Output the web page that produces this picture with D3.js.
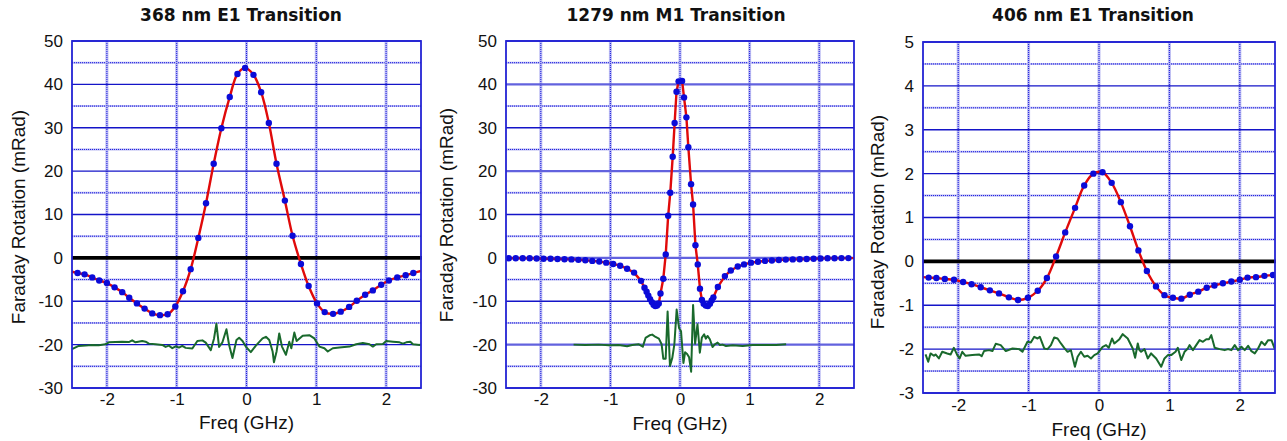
<!DOCTYPE html>
<html><head><meta charset="utf-8">
<script src="https://cdn.jsdelivr.net/npm/d3@7"></script>
<style>body{margin:0;background:#fff;} svg{display:block;}</style>
</head><body><svg id="c" width="1287" height="441"></svg>
<script>
// ---------- DATA ----------
const titles = ["368 nm E1 Transition", "1279 nm M1 Transition", "406 nm E1 Transition"];
const xLabel = "Freq (GHz)";
const yLabel = "Faraday Rotation (mRad)";
const xTicks = [-2, -1, 0, 1, 2];
const yTicksA = [50, 40, 30, 20, 10, 0, -10, -20, -30];
const yMinorA = [45, 35, 25, 15, 5, -5, -15, -25];
const yTicksB = [5, 4, 3, 2, 1, 0, -1, -2, -3];
const yMinorB = [4.5, 3.5, 2.5, 1.5, 0.5, -0.5, -1.5, -2.5];

// Panel 1 (368 nm) measured points
const p1DotX = [-2.42,-2.32,-2.21,-2.11,-2.00,-1.89,-1.78,-1.68,-1.57,-1.46,-1.35,-1.24,-1.13,-1.02,-0.91,-0.80,-0.69,-0.58,-0.47,-0.36,-0.24,-0.13,-0.02,0.10,0.21,0.32,0.43,0.55,0.66,0.78,0.89,1.01,1.12,1.24,1.35,1.47,1.58,1.70,1.81,1.93,2.04,2.16,2.28,2.39];
const p1DotY = [-3.5,-3.8,-4.5,-5.2,-5.8,-6.8,-7.9,-9.2,-10.5,-11.7,-12.8,-13.2,-13.0,-11.2,-7.7,-2.6,4.6,12.6,21.7,29.9,37.1,42.4,43.8,42.2,38.2,31.1,21.7,13.2,5.1,-1.4,-6.5,-10.5,-12.5,-12.9,-12.4,-11.3,-9.9,-8.5,-7.5,-6.2,-5.2,-4.5,-4.0,-3.5];
const p1FitEnds = [[-2.5, -3.2], [2.5, -3.0]];
const p1Resid = [[-2.5,-21.05],[-2.404,-20.3],[-2.308,-20.23],[-2.213,-20.08],[-2.117,-20.15],[-2.021,-19.92],[-1.973,-19.47],[-1.877,-19.4],[-1.782,-19.32],[-1.686,-19.4],[-1.638,-19.02],[-1.59,-19.47],[-1.494,-19.17],[-1.446,-19.32],[-1.398,-19.77],[-1.303,-19.92],[-1.207,-20.08],[-1.159,-20.53],[-1.111,-20.23],[-1.063,-20.83],[-1.015,-20.38],[-0.967,-20.68],[-0.92,-20.3],[-0.872,-20.75],[-0.776,-20.9],[-0.704,-19.17],[-0.632,-19.02],[-0.584,-19.55],[-0.512,-21.28],[-0.465,-18.57],[-0.431,-15.19],[-0.393,-20.53],[-0.345,-19.47],[-0.287,-16.47],[-0.249,-20.08],[-0.201,-23.08],[-0.144,-18.95],[-0.105,-18.42],[-0.057,-19.17],[-0.01,-20.45],[0.062,-21.73],[0.134,-20.23],[0.23,-18.57],[0.278,-18.2],[0.326,-18.95],[0.374,-21.58],[0.393,-24.06],[0.431,-21.58],[0.469,-17.44],[0.508,-20.45],[0.565,-22.33],[0.613,-19.32],[0.642,-20.83],[0.685,-17.22],[0.718,-19.17],[0.805,-17.97],[0.9,-17.82],[0.972,-18.57],[1.044,-20.45],[1.116,-20.83],[1.164,-21.58],[1.236,-20.83],[1.331,-20.68],[1.475,-20.45],[1.571,-19.92],[1.667,-19.62],[1.762,-19.92],[1.81,-20.45],[1.858,-19.92],[1.954,-19.85],[2.002,-19.17],[2.098,-19.32],[2.193,-19.47],[2.241,-19.77],[2.289,-19.47],[2.347,-19.32],[2.385,-19.92],[2.481,-20.08],[2.5,-19.92]];

// Panel 2 (1279 nm) measured points
const p2DotX = [-2.46,-2.36,-2.26,-2.16,-2.06,-1.96,-1.86,-1.76,-1.66,-1.56,-1.46,-1.36,-1.26,-1.16,-1.06,-0.96,-0.86,-0.76,-0.66,-0.56,-0.51,-0.48,-0.455,-0.43,-0.405,-0.38,-0.355,-0.33,-0.305,-0.28,-0.24,-0.205,-0.17,-0.14,-0.105,-0.077,-0.05,-0.02,0.03,0.058,0.092,0.12,0.159,0.188,0.222,0.255,0.287,0.315,0.34,0.37,0.40,0.43,0.455,0.48,0.544,0.645,0.73,0.83,0.92,1.02,1.12,1.22,1.32,1.42,1.52,1.62,1.72,1.82,1.92,2.02,2.12,2.22,2.32,2.42];
const p2DotY = [-0.1,-0.1,-0.1,-0.1,-0.15,-0.2,-0.2,-0.25,-0.3,-0.35,-0.45,-0.55,-0.7,-0.85,-1.1,-1.4,-1.8,-2.5,-3.4,-5.3,-6.9,-7.8,-8.7,-9.5,-10.2,-10.8,-11.1,-11.0,-10.5,-8.2,-4.8,0.8,9.7,15.0,23.3,31.1,38.3,40.7,40.8,37.0,32.4,25.5,17.0,12.3,2.9,-1.5,-7.1,-9.7,-10.6,-11.0,-11.1,-10.6,-9.8,-9.1,-6.7,-4.2,-2.9,-2.0,-1.5,-1.1,-0.9,-0.7,-0.6,-0.5,-0.4,-0.35,-0.3,-0.25,-0.2,-0.15,-0.1,-0.1,-0.05,-0.05];
const p2FitEnds = [[-2.5, -0.1], [2.5, -0.05]];
const p2Resid = [[-1.529,-20.0],[-1.361,-20.08],[-1.168,-20.0],[-1.024,-20.15],[-0.88,-20.08],[-0.76,-20.38],[-0.687,-20.08],[-0.591,-19.92],[-0.534,-20.46],[-0.495,-18.46],[-0.437,-17.85],[-0.399,-17.69],[-0.351,-18.23],[-0.303,-18.62],[-0.264,-19.92],[-0.24,-23.23],[-0.206,-23.23],[-0.178,-12.38],[-0.144,-24.92],[-0.11,-23.0],[-0.081,-19.92],[-0.048,-11.92],[-0.014,-16.15],[0.015,-16.92],[0.049,-24.23],[0.073,-21.77],[0.102,-22.15],[0.131,-22.92],[0.16,-26.23],[0.188,-10.85],[0.217,-19.77],[0.251,-15.31],[0.285,-21.85],[0.314,-18.38],[0.347,-17.62],[0.371,-18.62],[0.395,-18.0],[0.429,-18.77],[0.467,-20.54],[0.501,-19.92],[0.54,-19.54],[0.573,-20.08],[0.612,-20.0],[0.661,-20.31],[0.757,-20.15],[0.901,-20.31],[1.045,-20.08],[1.237,-20.08],[1.381,-20.08],[1.525,-19.92]];

// Panel 3 (406 nm) measured points
const p3DotX = [-2.42,-2.31,-2.19,-2.06,-1.93,-1.81,-1.68,-1.55,-1.42,-1.28,-1.15,-1.01,-0.87,-0.74,-0.61,-0.48,-0.34,-0.21,-0.08,0.05,0.18,0.31,0.44,0.56,0.68,0.81,0.93,1.05,1.17,1.29,1.41,1.53,1.64,1.76,1.88,2.00,2.11,2.23,2.35,2.47];
const p3DotY = [-0.37,-0.38,-0.40,-0.42,-0.47,-0.52,-0.59,-0.66,-0.73,-0.82,-0.88,-0.83,-0.67,-0.38,0.11,0.66,1.22,1.73,2.00,2.03,1.79,1.35,0.80,0.25,-0.22,-0.57,-0.77,-0.83,-0.85,-0.76,-0.69,-0.60,-0.55,-0.50,-0.46,-0.42,-0.37,-0.36,-0.33,-0.31];
const p3FitEnds = [[-2.5, -0.36], [2.5, -0.30]];
const p3Resid = [[-2.464,-2.121],[-2.426,-2.288],[-2.393,-2.098],[-2.345,-2.152],[-2.322,-2.121],[-2.274,-2.212],[-2.227,-2.061],[-2.156,-2.098],[-2.108,-2.121],[-2.061,-1.97],[-2.013,-2.136],[-1.98,-2.212],[-1.942,-2.061],[-1.895,-2.152],[-1.8,-2.136],[-1.704,-2.121],[-1.666,-2.159],[-1.633,-2.045],[-1.562,-2.023],[-1.514,-2.045],[-1.467,-1.879],[-1.396,-1.909],[-1.324,-2.045],[-1.229,-1.985],[-1.134,-2.0],[-1.087,-2.061],[-1.016,-1.833],[-0.968,-1.848],[-0.92,-1.72],[-0.873,-1.758],[-0.84,-1.72],[-0.778,-1.985],[-0.731,-2.0],[-0.683,-1.909],[-0.636,-1.735],[-0.589,-1.758],[-0.541,-1.871],[-0.494,-1.97],[-0.446,-2.061],[-0.399,-2.023],[-0.342,-2.402],[-0.304,-2.174],[-0.257,-2.061],[-0.209,-2.174],[-0.162,-2.152],[-0.114,-2.212],[-0.067,-2.136],[-0.019,-2.098],[0.052,-1.947],[0.1,-1.909],[0.138,-1.97],[0.185,-1.758],[0.218,-1.871],[0.29,-1.773],[0.337,-1.659],[0.408,-1.758],[0.479,-1.985],[0.513,-2.197],[0.551,-1.871],[0.574,-2.023],[0.598,-2.061],[0.646,-2.0],[0.693,-2.212],[0.74,-2.098],[0.812,-2.212],[0.883,-2.402],[0.93,-2.212],[0.978,-2.136],[1.025,-2.136],[1.087,-2.061],[1.12,-1.97],[1.168,-2.25],[1.215,-2.061],[1.262,-1.985],[1.286,-1.909],[1.334,-2.023],[1.381,-1.909],[1.429,-1.795],[1.476,-1.833],[1.524,-1.773],[1.562,-1.773],[1.595,-1.682],[1.643,-1.97],[1.714,-2.0],[1.785,-2.023],[1.833,-2.0],[1.88,-2.023],[1.928,-1.909],[1.975,-2.023],[2.023,-1.947],[2.07,-2.023],[2.118,-1.924],[2.165,-2.045],[2.213,-2.098],[2.26,-1.985],[2.308,-1.833],[2.355,-1.909],[2.403,-1.795],[2.45,-1.795],[2.498,-2.0]];

// ---------- LAYOUT / STYLE ----------
const panels = [
  {title: titles[0], box: {l: 72, r: 421, t: 41, b: 388}, yDomain: [-30, 50], yTicks: yTicksA, yMinor: yMinorA,
   dx: p1DotX, dy: p1DotY, ends: p1FitEnds, resid: p1Resid, smooth: true, zero: true, alt: false,
   yTitleX: 18, yTitleY: 217, titleX: 241, xTickPad: 5, xTitleY: 429},
  {title: titles[1], box: {l: 506, r: 854, t: 41, b: 388}, yDomain: [-30, 50], yTicks: yTicksA, yMinor: yMinorA,
   dx: p2DotX, dy: p2DotY, ends: p2FitEnds, resid: p2Resid, smooth: false, zero: false, alt: true,
   yTitleX: 446, yTitleY: 215, titleX: 676, xTickPad: 5, xTitleY: 430},
  {title: titles[2], box: {l: 923, r: 1275, t: 42, b: 393}, yDomain: [-3, 5], yTicks: yTicksB, yMinor: yMinorB,
   dx: p3DotX, dy: p3DotY, ends: p3FitEnds, resid: p3Resid, smooth: true, zero: true, alt: false,
   yTitleX: 877, yTitleY: 222, titleX: 1093, xTickPad: 6, xTitleY: 436}
];

const BLUE_MAJOR = "#1414c8";
const BLUE_DOT = "#1a1ae0";
const BAND = "#b9b9f2";
const FRAME = "#2424d4";
const TICK_FONT = "'Liberation Sans', Arial, sans-serif";

const svg = d3.select("#c");
svg.append("rect").attr("width", 1287).attr("height", 441).attr("fill", "#fff");

panels.forEach((p, i) => {
  const b = p.box;
  const x = d3.scaleLinear().domain([-2.5, 2.5]).range([b.l, b.r]);
  const y = d3.scaleLinear().domain(p.yDomain).range([b.b, b.t]);
  const g = svg.append("g");

  const clipId = "clip" + i;
  svg.append("clipPath").attr("id", clipId)
    .append("rect").attr("x", b.l).attr("y", b.t).attr("width", b.r - b.l).attr("height", b.b - b.t);

  // minor horizontal grid (dotted)
  const minor = g.append("g");
  minor.selectAll("line.band").data(p.yMinor).join("line")
    .attr("x1", b.l).attr("x2", b.r).attr("y1", d => y(d)).attr("y2", d => y(d))
    .attr("stroke", BAND).attr("stroke-width", 2);
  minor.selectAll("line.dot").data(p.yMinor).join("line").attr("class", "dot")
    .attr("x1", b.l).attr("x2", b.r).attr("y1", d => y(d)).attr("y2", d => y(d))
    .attr("stroke", BLUE_DOT).attr("stroke-width", 1).attr("stroke-dasharray", "1,1");

  // vertical grid (dotted)
  const vg = g.append("g");
  vg.selectAll("line.band").data(xTicks).join("line")
    .attr("x1", d => x(d)).attr("x2", d => x(d)).attr("y1", b.t).attr("y2", b.b)
    .attr("stroke", BAND).attr("stroke-width", 3);
  vg.selectAll("line.dot").data(xTicks).join("line").attr("class", "dot")
    .attr("x1", d => x(d)).attr("x2", d => x(d)).attr("y1", b.t).attr("y2", b.b)
    .attr("stroke", BLUE_DOT).attr("stroke-width", 1).attr("stroke-dasharray", "1,1");

  // major horizontal grid (solid)
  g.append("g").selectAll("line").data(p.yTicks).join("line")
    .attr("x1", b.l).attr("x2", b.r).attr("y1", d => y(d)).attr("y2", d => y(d))
    .attr("stroke", (d, k) => (p.alt && k % 2 === 1) ? "#6262de" : BLUE_MAJOR)
    .attr("stroke-width", (d, k) => (p.alt && k % 2 === 1) ? 2.4 : 1.3);

  // zero line
  if (p.zero) {
    g.append("line").attr("x1", b.l).attr("x2", b.r + 1).attr("y1", y(0)).attr("y2", y(0))
      .attr("stroke", "#000").attr("stroke-width", 3.6);
  }

  const plot = g.append("g").attr("clip-path", `url(#${clipId})`);

  // residual (green)
  plot.append("path").datum(p.resid)
    .attr("d", d3.line().x(d => x(d[0])).y(d => y(d[1])))
    .attr("fill", "none").attr("stroke", "#19692c").attr("stroke-width", 2).attr("stroke-linejoin", "round");

  // fit (red)
  const pts = p.dx.map((v, k) => [v, p.dy[k]]);
  const fit = [p.ends[0], ...pts, p.ends[1]];
  plot.append("path").datum(fit)
    .attr("d", d3.line().x(d => x(d[0])).y(d => y(d[1]))
      .curve(p.smooth ? d3.curveCatmullRom.alpha(0.5) : d3.curveLinear))
    .attr("fill", "none").attr("stroke", "#e00a0a").attr("stroke-width", 2.4).attr("stroke-linejoin", "round");

  // measured points (blue)
  plot.append("g").selectAll("circle").data(pts).join("circle")
    .attr("cx", d => x(d[0])).attr("cy", d => y(d[1])).attr("r", 3.2)
    .attr("fill", "#0b0bd8");

  // frame
  g.append("rect").attr("x", b.l).attr("y", b.t).attr("width", b.r - b.l).attr("height", b.b - b.t)
    .attr("fill", "none").attr("stroke", FRAME).attr("stroke-width", 1.8);

  // axes
  const ya = g.append("g").attr("transform", `translate(${b.l},0)`)
    .call(d3.axisLeft(y).tickValues(p.yTicks).tickSize(0).tickPadding(9).tickFormat(d => String(d)));
  ya.select(".domain").remove();
  ya.selectAll("text").attr("font-size", 17).attr("font-family", TICK_FONT).attr("fill", "#111");

  const xa = g.append("g").attr("transform", `translate(0,${b.b})`)
    .call(d3.axisBottom(x).tickValues(xTicks).tickSize(0).tickPadding(p.xTickPad).tickFormat(d => String(d)));
  xa.select(".domain").remove();
  xa.selectAll("text").attr("font-size", 17).attr("font-family", TICK_FONT).attr("fill", "#111");

  // titles
  g.append("text").attr("x", p.titleX).attr("y", 21).attr("text-anchor", "middle")
    .attr("font-family", "'DejaVu Sans', sans-serif").attr("font-weight", "bold").attr("font-size", 17)
    .attr("fill", "#111").text(p.title);
  g.append("text").attr("x", (b.l + b.r) / 2).attr("y", p.xTitleY).attr("text-anchor", "middle")
    .attr("font-family", TICK_FONT).attr("font-size", 19).attr("fill", "#111").text(xLabel);
  g.append("text").attr("transform", `translate(${p.yTitleX},${p.yTitleY}) rotate(-90)`)
    .attr("text-anchor", "middle").attr("dominant-baseline", "central")
    .attr("font-family", TICK_FONT).attr("font-size", 19).attr("fill", "#111").text(yLabel);
});
</script>
</body></html>
